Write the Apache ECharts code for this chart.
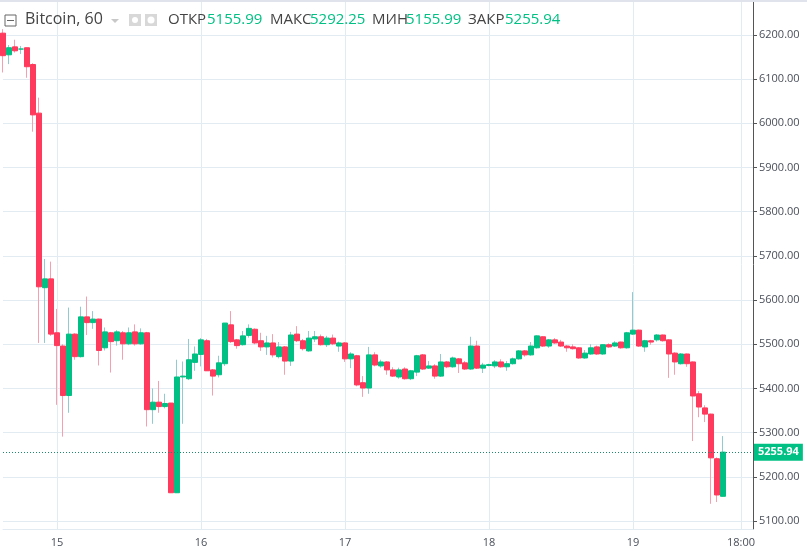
<!DOCTYPE html>
<html><head><meta charset="utf-8">
<script src="https://cdn.jsdelivr.net/npm/echarts@6/dist/echarts.min.js"></script>
<style>html,body{margin:0;padding:0;background:#fff}#c{width:807px;height:551px}</style>
</head><body><div id="c"></div>
<script>
// [open, close, low, high] per hourly candle, starting 14th 15:00
const candles = [
[6204,6153,6115,6213],[6155,6171,6134,6177],[6173,6164,6160,6189],[6168,6168,6157,6175],[6171,6128,6103,6171],
[6133,6019,5981,6136],[6023,5630,5503,6058],[5628,5648,5503,5693],[5648,5523,5519,5687],[5526,5497,5363,5580],
[5496,5384,5291,5500],[5384,5523,5345,5583],[5523,5472,5465,5525],[5472,5562,5470,5585],[5562,5549,5521,5608],
[5549,5557,5535,5575],[5557,5486,5452,5558],[5492,5528,5486,5538],[5526,5506,5436,5528],[5508,5528,5497,5532],
[5526,5501,5465,5530],[5501,5526,5498,5538],[5528,5501,5497,5545],[5501,5526,5499,5536],[5526,5352,5314,5528],
[5352,5369,5320,5400],[5369,5359,5345,5417],[5359,5366,5355,5388],[5367,5164,5164,5367],[5164,5426,5164,5465],
[5426,5428,5320,5461],[5422,5465,5419,5512],[5459,5478,5440,5495],[5477,5510,5450,5514],[5508,5440,5440,5512],
[5442,5428,5384,5444],[5431,5458,5425,5474],[5456,5548,5451,5548],[5544,5506,5503,5575],[5510,5497,5490,5512],
[5499,5519,5497,5530],[5520,5536,5515,5545],[5534,5503,5500,5536],[5508,5494,5485,5526],[5494,5503,5476,5519],
[5503,5476,5470,5523],[5472,5494,5468,5505],[5494,5462,5431,5496],[5462,5521,5451,5528],[5523,5508,5505,5541],
[5508,5490,5486,5512],[5485,5514,5483,5530],[5512,5517,5505,5530],[5517,5499,5497,5522],[5499,5514,5494,5519],
[5514,5501,5498,5522],[5496,5503,5483,5506],[5503,5467,5460,5505],[5467,5478,5446,5482],[5474,5408,5405,5476],
[5413,5401,5381,5428],[5401,5476,5388,5494],[5476,5453,5450,5482],[5451,5460,5447,5465],[5460,5442,5431,5462],
[5442,5428,5426,5448],[5426,5442,5422,5447],[5444,5422,5420,5448],[5422,5440,5419,5442],[5437,5474,5428,5476],
[5476,5444,5442,5478],[5446,5451,5444,5462],[5451,5428,5422,5455],[5428,5460,5426,5478],[5460,5449,5446,5462],
[5449,5469,5447,5472],[5467,5456,5435,5469],[5458,5444,5442,5462],[5444,5496,5442,5517],[5496,5446,5444,5508],
[5446,5453,5435,5458],[5452,5454,5450,5456],[5451,5460,5446,5464],[5460,5449,5447,5466],[5449,5456,5440,5462],
[5456,5467,5454,5470],[5467,5485,5465,5487],[5485,5476,5472,5487],[5476,5496,5474,5505],[5492,5519,5490,5520],
[5517,5496,5494,5518],[5496,5510,5492,5512],[5510,5503,5501,5514],[5505,5496,5494,5510],[5496,5492,5483,5498],
[5494,5490,5488,5500],[5492,5469,5467,5493],[5469,5480,5467,5487],[5478,5492,5476,5500],[5494,5478,5476,5497],
[5478,5499,5476,5500],[5499,5494,5492,5502],[5496,5503,5494,5507],[5505,5492,5490,5506],[5492,5526,5490,5528],
[5523,5532,5521,5618],[5532,5496,5494,5533],[5494,5508,5483,5510],[5508,5505,5499,5510],[5510,5521,5506,5523],
[5521,5508,5506,5522],[5510,5478,5424,5511],[5480,5460,5431,5482],[5456,5478,5454,5480],[5478,5456,5449,5479],
[5460,5383,5281,5461],[5388,5358,5335,5394],[5356,5342,5324,5362],[5342,5243,5139,5343],[5241,5159,5143,5244],
[5155.99,5255.94,5155.99,5292.25]
];
const tickIndex = [9,33,57,81,105,123];
const tickLabels = ["15","16","17","18","19","18:00"];
const yTicks = [5100,5200,5300,5400,5500,5600,5700,5800,5900,6000,6100,6200];
const lastClose = 5255.94;
const header = {symbol:"Bitcoin, 60", open:"5155.99", high:"5292.25", low:"5155.99", close:"5255.94"};
const totalSlots = 126;

const categories = [];
for (let i = 0; i < totalSlots; i++) {
  const h = (15 + i) % 24, d = 14 + Math.floor((15 + i) / 24);
  categories.push(d + " " + String(h).padStart(2,"0") + ":00");
}
const pad = Array(totalSlots - candles.length).fill('-');
const wickData = candles.map(c => c).concat(pad);
const bodyData = candles.map(c => [c[0], c[1], Math.min(c[0],c[1]), Math.max(c[0],c[1])]).concat(pad);

const RED = '#ff3a5c', GREEN = '#00c183', RED_W = '#f5a0ae', GREEN_W = '#8fcbcf';
const chart = echarts.init(document.getElementById('c'));
const tickFmt = (v, i) => { const k = tickIndex.indexOf(i); return k >= 0 ? tickLabels[k] : ''; };
const F = '15px "Open Sans"';
chart.setOption({
  animation: false,
  grid: [{left: 3, width: 750, top: 0, height: 529}],
  xAxis: [{type: 'category', data: categories, boundaryGap: false,
           axisLine: {show: true, lineStyle: {color: '#e1ebf1'}}, axisTick: {show: false},
           axisLabel: {interval: 0, formatter: tickFmt, color: '#4a4f5a', fontSize: 11, fontFamily: 'Open Sans', margin: 8},
           splitLine: {show: true, interval: (i) => tickIndex.includes(i), lineStyle: {color: '#e1ebf1'}}}],
  yAxis: [{type: 'value', position: 'right', min: 5082, max: 6279,
           axisLine: {show: true, lineStyle: {color: '#555'}},
           axisTick: {show: true, length: 4, customValues: yTicks, lineStyle: {color: '#555'}},
           axisLabel: {customValues: yTicks, color: '#4a4f5a', fontSize: 11, fontFamily: 'Open Sans', margin: 6,
             formatter: v => Number(v).toFixed(2)},
           splitLine: {lineStyle: {color: '#e1ebf1'}}}],
  series: [
    {type: 'candlestick', data: wickData, barWidth: 1,
     itemStyle: {color: GREEN_W, color0: RED_W, borderColor: GREEN_W, borderColor0: RED_W, borderWidth: 1}},
    {type: 'candlestick', data: bodyData, barWidth: 5,
     itemStyle: {color: GREEN, color0: RED, borderColor: GREEN, borderColor0: RED, borderWidth: 1},
     markLine: {symbol: 'none', silent: true, data: [{yAxis: lastClose}],
       lineStyle: {color: '#1a8a6a', type: [1, 2], width: 1},
       label: {position: 'end', formatter: lastClose.toFixed(2), color: '#fff', backgroundColor: GREEN,
         padding: [3, 4], fontSize: 11, fontFamily: 'Open Sans', fontWeight: 'bold', distance: 1}}}
  ],
  graphic: [
    {type: 'rect', z: 100, shape: {x: 0, y: 0, width: 807, height: 2}, style: {fill: '#e0e3eb'}},
    {type: 'rect', z: 101, shape: {x: 5, y: 15, width: 11, height: 11}, style: {fill: 'none', stroke: '#666', lineWidth: 1}},
    {type: 'rect', z: 101, shape: {x: 7, y: 20, width: 7, height: 1}, style: {fill: '#666'}},
    {type: 'text', z: 101, left: 25, top: 11, style: {text: header.symbol, fill: '#444', font: '16px "Open Sans"'}},
    {type: 'polygon', z: 101, shape: {points: [[111,19],[119,19],[115,23]]}, style: {fill: '#c8c8c8'}},
    {type: 'rect', z: 101, shape: {x: 129, y: 14, width: 12, height: 12}, style: {fill: '#d8d8d8'}},
    {type: 'circle', z: 102, shape: {cx: 135, cy: 20, r: 3}, style: {fill: '#fff'}},
    {type: 'rect', z: 101, shape: {x: 145, y: 14, width: 12, height: 12}, style: {fill: '#d8d8d8'}},
    {type: 'circle', z: 102, shape: {cx: 151, cy: 20, r: 3.5}, style: {fill: '#fff'}},
    {type: 'text', z: 101, left: 168, top: 12, style: {text: 'ОТКР', fill: '#444', font: F}},
    {type: 'text', z: 101, left: 207, top: 12, style: {text: header.open, fill: GREEN, font: F}},
    {type: 'text', z: 101, left: 270, top: 12, style: {text: 'МАКС', fill: '#444', font: F}},
    {type: 'text', z: 101, left: 310, top: 12, style: {text: header.high, fill: GREEN, font: F}},
    {type: 'text', z: 101, left: 372, top: 12, style: {text: 'МИН', fill: '#444', font: F}},
    {type: 'text', z: 101, left: 406, top: 12, style: {text: header.low, fill: GREEN, font: F}},
    {type: 'text', z: 101, left: 468, top: 12, style: {text: 'ЗАКР', fill: '#444', font: F}},
    {type: 'text', z: 101, left: 505, top: 12, style: {text: header.close, fill: GREEN, font: F}}
  ]
});
</script></body></html>
